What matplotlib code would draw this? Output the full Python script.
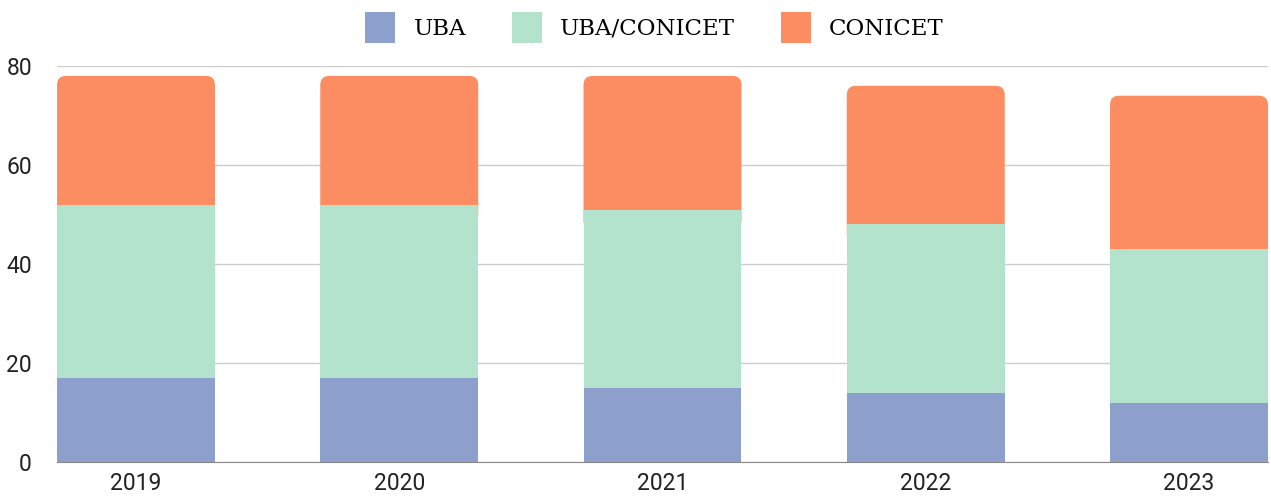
import matplotlib.pyplot as plt
from matplotlib.patches import FancyBboxPatch, Patch

years = ['2019', '2020', '2021', '2022', '2023']
uba = [17, 17, 15, 14, 12]
uba_conicet = [35, 35, 36, 34, 31]
conicet = [26, 26, 27, 28, 31]

colors = ['#8DA0CB', '#B3E2CD', '#FC8D62']
labels = ['UBA', 'UBA/CONICET', 'CONICET']

W, H = 1271, 499
fig = plt.figure(figsize=(W / 100, H / 100), dpi=100)
ax_l, ax_r, ax_b, ax_t = 57, 1268, 37, 433
ax = fig.add_axes([ax_l / W, ax_b / H, (ax_r - ax_l) / W, (ax_t - ax_b) / H])

x = list(range(len(years)))
width = 0.6
xlim = (-0.3, 4.3)
ylim = (0, 80)
ax.set_xlim(*xlim)
ax.set_ylim(*ylim)

totals = [a + b + c for a, b, c in zip(uba, uba_conicet, conicet)]
mid = [a + b for a, b in zip(uba, uba_conicet)]

# top series as rounded boxes; their lower end hides under the green segment
px_x = (ax_r - ax_l) / (xlim[1] - xlim[0])
px_y = (ax_t - ax_b) / (ylim[1] - ylim[0])
radius = 9 / px_x
for xi, m, t in zip(x, mid, totals):
    start = m - 4
    box = FancyBboxPatch((xi - width / 2, start), width, t - start,
                         boxstyle=f"round,pad=0,rounding_size={radius}",
                         mutation_aspect=px_x / px_y,
                         facecolor=colors[2], edgecolor='none', zorder=2)
    ax.add_patch(box)
ax.bar(x, uba_conicet, width, bottom=uba, color=colors[1], zorder=3)
ax.bar(x, uba, width, color=colors[0], zorder=3)

ax.set_yticks([0, 20, 40, 60, 80])
ax.set_xticks(x)
ax.set_xticklabels(years)
ax.grid(axis='y', color='#cccccc', linewidth=1, zorder=0)
ax.tick_params(length=0, labelsize=16.5, colors='#222222')
ax.tick_params(axis='y', pad=18)
ax.tick_params(axis='x', pad=7)
for lab in ax.get_xticklabels() + ax.get_yticklabels():
    lab.set_fontfamily('Roboto')
for s in ['top', 'right', 'left']:
    ax.spines[s].set_visible(False)
ax.spines['bottom'].set_color('#888888')
ax.spines['bottom'].set_zorder(4)

handles = [Patch(facecolor=c, edgecolor='none') for c in colors]
fig.legend(handles, labels, loc='upper center', bbox_to_anchor=(0.515, 1.018),
           ncol=3, frameon=False, prop={'family': 'DejaVu Serif', 'size': 16.5},
           handlelength=1.3, handleheight=1.7, columnspacing=2.0, handletextpad=0.8)

fig.savefig('out.png', dpi=100)
